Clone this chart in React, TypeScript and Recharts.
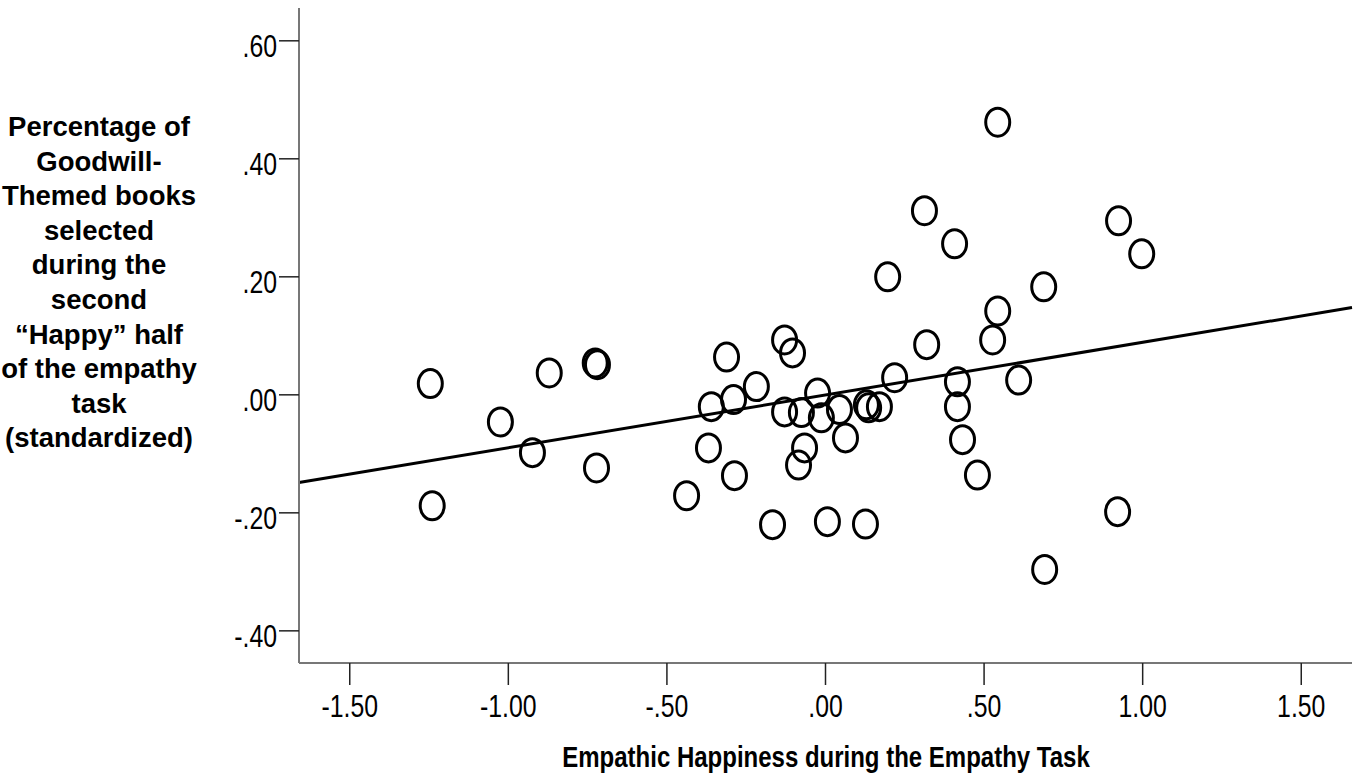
import React from "react";
import {
  ReferenceLine,
  Scatter,
  ScatterChart,
  XAxis,
  YAxis,
} from "recharts";

// Empathic happiness (x) vs. standardized share of goodwill-themed books (y)
const happiness = [
  -1.246, -1.24, -1.025, -0.924, -0.871, -0.726, -0.719, -0.722, -0.438, -0.312,
  -0.36, -0.369, -0.29, -0.287, -0.218, -0.167, -0.129, -0.104, -0.129, -0.076,
  -0.066, -0.085, -0.025, -0.013, 0.006, 0.044, 0.063, 0.126, 0.129, 0.136,
  0.17, 0.196, 0.218, 0.312, 0.319, 0.407, 0.416, 0.416, 0.432, 0.479,
  0.527, 0.543, 0.543, 0.609, 0.688, 0.691, 0.921, 0.924, 0.997,
];
const goodwillShare = [
  0.019, -0.188, -0.046, -0.098, 0.037, 0.054, 0.051, -0.124, -0.171, 0.064,
  -0.02, -0.09, -0.008, -0.137, 0.014, -0.22, 0.093, 0.071, -0.029, -0.03,
  -0.09, -0.119, 0.003, -0.039, -0.215, -0.025, -0.073, -0.219, -0.017, -0.022,
  -0.02, 0.2, 0.029, 0.312, 0.085, 0.256, 0.022, -0.02, -0.076, -0.136,
  0.093, 0.142, 0.462, 0.025, 0.183, -0.296, -0.198, 0.295, 0.239,
];

// fitted line end points
const fitX = [-1.66, 1.66];
const fitY = [-0.1486, 0.1479];

const xTicks = [-1.5, -1, -0.5, 0, 0.5, 1, 1.5];
const xTickLabels = ["-1.50", "-1.00", "-.50", ".00", ".50", "1.00", "1.50"];
const yTicks = [-0.4, -0.2, 0, 0.2, 0.4, 0.6];
const yTickLabels = ["-.40", "-.20", ".00", ".20", ".40", ".60"];

const xTitle = "Empathic Happiness during the Empathy Task";
const yTitleLines = [
  "Percentage of",
  "Goodwill-",
  "Themed books",
  "selected",
  "during the",
  "second",
  "\u201cHappy\u201d half",
  "of the empathy",
  "task",
  "(standardized)",
];

const points = happiness.map((x, i) => ({ x, y: goodwillShare[i] }));

const FONT = "'Liberation Sans', Arial, sans-serif";

function XTick({ x, y, payload }: any) {
  const label = xTickLabels[xTicks.indexOf(payload.value)];
  return (
    <text
      transform={`translate(${x},${y}) scale(0.8,1)`}
      y={30}
      textAnchor="middle"
      fontFamily={FONT}
      fontSize={31}
      fill="#000"
    >
      {label}
    </text>
  );
}

function YTick({ x, y, payload }: any) {
  const label = yTickLabels[yTicks.indexOf(payload.value)];
  return (
    <text
      transform={`translate(${x},${y}) scale(0.8,1)`}
      y={16}
      textAnchor="end"
      fontFamily={FONT}
      fontSize={31}
      fill="#000"
    >
      {label}
    </text>
  );
}

function XTitle() {
  return (
    <text
      transform="translate(826,767) scale(0.8,1)"
      textAnchor="middle"
      fontFamily={FONT}
      fontWeight="bold"
      fontSize={30}
      fill="#000"
    >
      {xTitle}
    </text>
  );
}

function YTitle() {
  return (
    <text
      textAnchor="middle"
      fontFamily={FONT}
      fontWeight="bold"
      fontSize={27.5}
      fill="#000"
    >
      {yTitleLines.map((line, i) => (
        <tspan key={i} x={99} y={136 + i * 34.6}>
          {line}
        </tspan>
      ))}
    </text>
  );
}

function Ring({ cx, cy }: any) {
  return (
    <ellipse cx={cx} cy={cy} rx={12} ry={14} fill="none" stroke="#000" strokeWidth={3} />
  );
}

export default function App() {
  return (
    <div style={{ position: "absolute", left: 0, top: 0, width: 1360, height: 781, background: "#fff" }}>
      <ScatterChart
        width={1360}
        height={781}
        margin={{ top: 8, right: 8, bottom: 0, left: 0 }}
      >
        <XAxis
          type="number"
          dataKey="x"
          domain={[-1.66, 1.66]}
          ticks={xTicks}
          allowDataOverflow
          height={118}
          tickSize={22}
          tickLine={{ stroke: "#222", strokeWidth: 1.5 }}
          axisLine={{ stroke: "#777", strokeWidth: 2 }}
          tick={XTick}
          label={{ content: XTitle }}
        />
        <YAxis
          type="number"
          dataKey="y"
          domain={[-0.4545, 0.6556]}
          ticks={yTicks}
          allowDataOverflow
          width={299}
          tickSize={20}
          tickLine={{ stroke: "#222", strokeWidth: 1.5 }}
          axisLine={{ stroke: "#777", strokeWidth: 2 }}
          tick={YTick}
          label={{ content: YTitle }}
        />
        <ReferenceLine
          segment={[
            { x: fitX[0], y: fitY[0] },
            { x: fitX[1], y: fitY[1] },
          ]}
          stroke="#000"
          strokeWidth={3}
          ifOverflow="visible"
        />
        <Scatter data={points} shape={Ring} isAnimationActive={false} />
      </ScatterChart>
    </div>
  );
}
